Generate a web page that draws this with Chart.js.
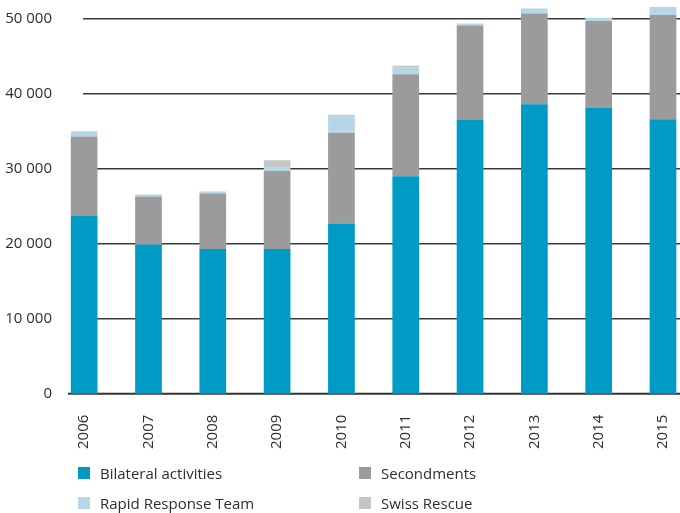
<!DOCTYPE html>
<html>
<head>
<meta charset="utf-8">
<script src="https://cdn.jsdelivr.net/npm/chart.js@4/dist/chart.umd.min.js"></script>
<style>
  html, body { margin: 0; padding: 0; background: #fff; overflow: hidden; }
  #wrap { position: relative; width: 680px; height: 513px; overflow: hidden; }
  #chart { position: absolute; left: 0; top: 0; }
  #legend { position: absolute; left: 78px; top: 464px; width: 560px;
    display: grid; grid-template-columns: 281px 260px; row-gap: 12px;
    font-family: "Open Sans", sans-serif; font-size: 15px; color: #2e2e2e; }
  .item { display: flex; align-items: center; height: 18px; }
  .box { width: 12px; height: 12px; margin-right: 10px; flex: none; }
</style>
</head>
<body>
<div id="wrap">
  <canvas id="chart" width="702" height="470"></canvas>
  <div id="legend"></div>
</div>
<script>
  // Data
  const years = ["2006", "2007", "2008", "2009", "2010", "2011", "2012", "2013", "2014", "2015"];
  const bilateral = [23700, 19900, 19300, 19300, 22700, 29000, 36500, 38600, 38100, 36600];
  const secondments = [10600, 6400, 7400, 10400, 12100, 13600, 12600, 12100, 11600, 13900];
  const rapidResponse = [700, 270, 270, 500, 2400, 870, 270, 670, 430, 1070];
  const swissRescue = [0, 0, 0, 930, 0, 270, 0, 0, 0, 0];
  const yTicks = [0, 10000, 20000, 30000, 40000, 50000];

  const seriesNames = ["Bilateral activities", "Secondments", "Rapid Response Team", "Swiss Rescue"];
  const colors = ["#009bc4", "#9b9b9b", "#b7d7e8", "#c6c6c6"];
  const seriesData = [bilateral, secondments, rapidResponse, swissRescue];

  Chart.defaults.font.family = "'Open Sans', sans-serif";
  Chart.defaults.font.size = 15;
  Chart.defaults.color = "#2e2e2e";

  // horizontal rules behind the bars
  const gridLines = {
    id: "gridLines",
    beforeDatasetsDraw(chart) {
      const { ctx, chartArea, scales: { y } } = chart;
      ctx.save();
      y.ticks.forEach(t => {
        const py = y.getPixelForValue(t.value);
        ctx.beginPath();
        if (t.value === 0) {
          ctx.lineWidth = 2;
          ctx.strokeStyle = "#333";
          ctx.moveTo(chartArea.left + 16, py);
        } else {
          ctx.lineWidth = 1.5;
          ctx.strokeStyle = "#3a3a3a";
          ctx.moveTo(chartArea.left + 31, py);
        }
        ctx.lineTo(chartArea.right, py);
        ctx.stroke();
      });
      ctx.restore();
    }
  };

  new Chart(document.getElementById("chart"), {
    type: "bar",
    data: {
      labels: years,
      datasets: seriesNames.map((name, i) => ({
        label: name,
        data: seriesData[i],
        backgroundColor: colors[i],
        borderWidth: 0,
        barPercentage: 0.415,
        categoryPercentage: 1,
        clip: false
      }))
    },
    options: {
      responsive: false,
      animation: false,
      devicePixelRatio: 1,
      layout: { padding: { top: 0, right: 0, bottom: 0, left: 0 } },
      plugins: { legend: { display: false }, tooltip: { enabled: false } },
      scales: {
        x: {
          stacked: true,
          grid: { display: false, drawTicks: false },
          border: { display: false },
          ticks: { minRotation: 90, maxRotation: 90, padding: 21 }
        },
        y: {
          stacked: true,
          min: 0,
          max: 51300,
          grid: { display: false, drawTicks: false },
          border: { display: false },
          afterBuildTicks: scale => { scale.ticks = yTicks.map(v => ({ value: v })); },
          afterFit: scale => { scale.width = 52; },
          ticks: {
            padding: 0,
            callback: v => v === 0 ? "0" : Math.floor(v / 1000) + " 000"
          }
        }
      }
    },
    plugins: [gridLines]
  });

  // legend, 2 x 2
  const legend = document.getElementById("legend");
  seriesNames.forEach((name, i) => {
    const item = document.createElement("div");
    item.className = "item";
    item.innerHTML = `<span class="box" style="background:${colors[i]}"></span><span>${name}</span>`;
    legend.appendChild(item);
  });
</script>
</body>
</html>
